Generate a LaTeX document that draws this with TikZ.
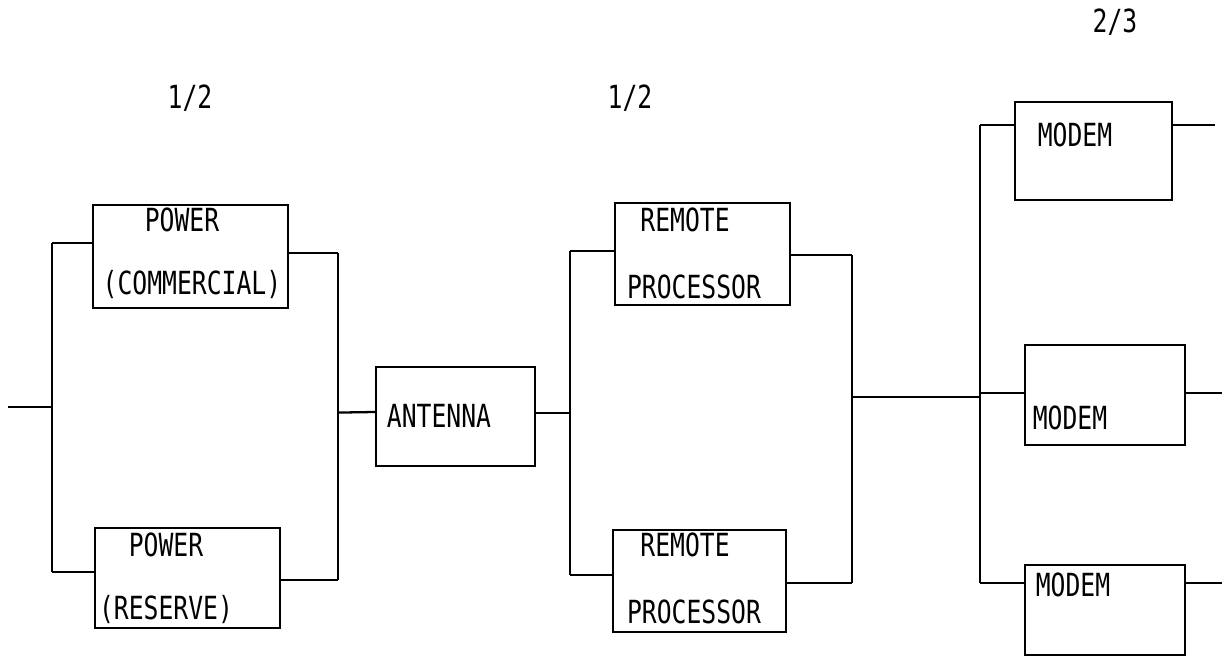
\documentclass[tikz,border=0pt]{standalone}
\usepackage{fontspec}
\setmonofont{DejaVu Sans Mono}
\usetikzlibrary{calc}

\newcommand{\tallt}[1]{\scalebox{0.97}[1.25]{#1}}

\tikzset{
  blk/.style={draw, line width=1.3pt, inner sep=0pt},
  txt/.style={font=\ttfamily\fontsize{14.5}{17}\selectfont, inner sep=0pt},
  wire/.style={line width=1.3pt}
}

\begin{document}
\begin{tikzpicture}[x=0.02cm, y=-0.02cm]
        \useasboundingbox (0,0) rectangle (1222,658);

        % Nhãn dư thừa
        \node[txt] (k1) at (190,98) {\tallt{1/2}};
        \node[txt] (k2) at (630,98) {\tallt{1/2}};
        \node[txt] (k3) at (1115,22) {\tallt{2/3}};

        % Khối nguồn
        \node[blk, minimum width=3.9cm, minimum height=2.06cm] (pc) at (190.5,256.5) {};
        \node[txt] (pcA) at (182,220) {\tallt{POWER}};
        \node[txt] (pcB) at (192,285) {\tallt{(COMMERCIAL)}};
        \node[blk, minimum width=3.7cm, minimum height=2cm] (pr) at (187.5,578) {};
        \node[txt] (prA) at (166,545) {\tallt{POWER}};
        \node[txt] (prB) at (166,610) {\tallt{(RESERVE)}};

        % Anten
        \node[blk, minimum width=3.18cm, minimum height=1.98cm] (ant) at (455.5,416.5) {};
        \node[txt] (antA) at (439,416) {\tallt{ANTENNA}};

        % Bộ xử lý từ xa
        \node[blk, minimum width=3.5cm, minimum height=2.04cm] (rp1) at (702.5,254) {};
        \node[txt] (rp1A) at (685,220) {\tallt{REMOTE}};
        \node[txt] (rp1B) at (694,287) {\tallt{PROCESSOR}};
        \node[blk, minimum width=3.46cm, minimum height=2.04cm] (rp2) at (699.5,581) {};
        \node[txt] (rp2A) at (685,545) {\tallt{REMOTE}};
        \node[txt] (rp2B) at (694,612) {\tallt{PROCESSOR}};

        % Modem
        \node[blk, minimum width=3.14cm, minimum height=1.96cm] (m1) at (1093.5,151) {};
        \node[txt] (m1A) at (1075,135) {\tallt{MODEM}};
        \node[blk, minimum width=3.2cm, minimum height=2cm] (m2) at (1105,395) {};
        \node[txt] (m2A) at (1070,418) {\tallt{MODEM}};
        \node[blk, minimum width=3.2cm, minimum height=1.8cm] (m3) at (1105,610) {};
        \node[txt] (m3A) at (1073,585) {\tallt{MODEM}};

        % Các thanh nối dọc
        \coordinate (in) at (8,407);
        \coordinate (b1t) at (52,243);  \coordinate (b1b) at (52,572);
        \coordinate (b2t) at (338,253); \coordinate (b2b) at (338,580);
        \coordinate (b3t) at (570,251); \coordinate (b3b) at (570,575);
        \coordinate (b4t) at (852,255); \coordinate (b4b) at (852,583);
        \coordinate (b5t) at (980,125); \coordinate (b5b) at (980,583);
        \coordinate (b5m) at (980,393);
        \coordinate (o1) at (1215,125);
        \coordinate (o2) at (1222,393);
        \coordinate (o3) at (1222,583);

        \draw[wire] (b1t) -- (b1b);
        \draw[wire] (b2t) -- (b2b);
        \draw[wire] (b3t) -- (b3b);
        \draw[wire] (b4t) -- (b4b);
        \draw[wire] (b5t) -- (b5b);

        % Dây nối ngang
        \draw[wire] (in) -- (in -| b1t);
        \draw[wire] (b1t) -- (b1t -| pc.west);
        \draw[wire] (b1b) -- (b1b -| pr.west);
        \draw[wire] (b2t -| pc.east) -- (b2t);
        \draw[wire] (b2b -| pr.east) -- (b2b);
        \draw[wire] ($(b2t)!0.488!(b2b)$) -- (ant.west |- 0,412);
        \draw[wire] (ant.east |- 0,413) -- (b3t |- 0,413);
        \draw[wire] (b3t) -- (b3t -| rp1.west);
        \draw[wire] (b3b) -- (b3b -| rp2.west);
        \draw[wire] (b4t -| rp1.east) -- (b4t);
        \draw[wire] (b4b -| rp2.east) -- (b4b);
        \draw[wire] (b4t |- 0,397) -- (b5t |- 0,397);
        \draw[wire] (b5t) -- (b5t -| m1.west);
        \draw[wire] (b5m) -- (b5m -| m2.west);
        \draw[wire] (b5b) -- (b5b -| m3.west);
        \draw[wire] (o1 -| m1.east) -- (o1);
        \draw[wire] (o2 -| m2.east) -- (o2);
        \draw[wire] (o3 -| m3.east) -- (o3);
\end{tikzpicture}
\end{document}
